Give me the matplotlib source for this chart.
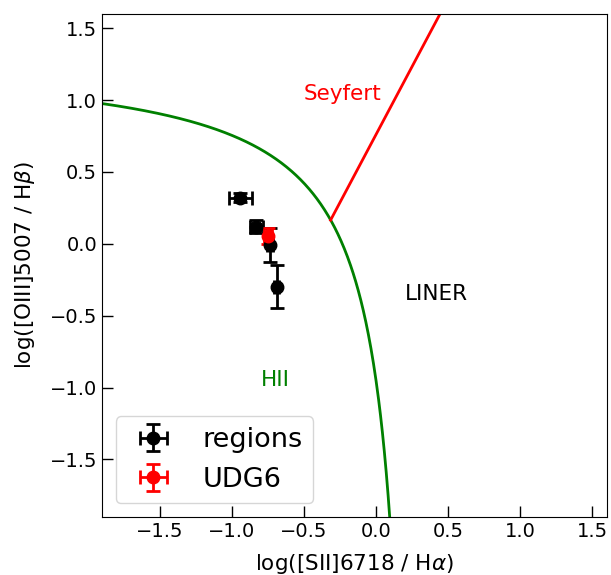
import numpy as np
import matplotlib.pyplot as plt

# data points
reg_x = [-0.94, -0.83, -0.735, -0.69]
reg_y = [0.32, 0.12, -0.01, -0.30]
reg_xerr = [0.08, 0.045, 0.02, 0.02]
reg_yerr = [0.03, 0.045, 0.12, 0.15]

udg_x = [-0.75]
udg_y = [0.055]
udg_xerr = [0.03]
udg_yerr = [0.055]

fig, ax = plt.subplots(figsize=(6.11, 5.75), dpi=100)

# Kewley 2006 demarcation lines
x1 = np.linspace(-1.9, 0.3, 500)
y1 = 0.72 / (x1 - 0.32) + 1.30
ax.plot(x1, y1, color='green', lw=2)

x2 = np.linspace(-0.315, 0.5, 100)
y2 = 1.89 * x2 + 0.76
ax.plot(x2, y2, color='red', lw=2)

ax.errorbar(reg_x, reg_y, xerr=reg_xerr, yerr=reg_yerr, fmt='o', color='black',
            ms=9, capsize=5, elinewidth=2, capthick=2, label='regions')
ax.errorbar(udg_x, udg_y, xerr=udg_xerr, yerr=udg_yerr, fmt='o', color='red',
            ms=9, capsize=5, elinewidth=2, capthick=2, label='UDG6')

ax.text(-0.23, 1.04, 'Seyfert', color='red', fontsize=15.5, ha='center', va='center')
ax.text(0.42, -0.35, 'LINER', color='black', fontsize=15.5, ha='center', va='center')
ax.text(-0.70, -0.95, 'HII', color='green', fontsize=15.5, ha='center', va='center')

ax.set_xlim(-1.9, 1.6)
ax.set_ylim(-1.9, 1.6)
ax.set_xticks([-1.5, -1.0, -0.5, 0.0, 0.5, 1.0, 1.5])
ax.set_yticks([-1.5, -1.0, -0.5, 0.0, 0.5, 1.0, 1.5])
ax.tick_params(direction='in', length=8, width=1, labelsize=14)
ax.set_xlabel(r'log([SII]6718 / H$\alpha$)', fontsize=15.5, labelpad=8)
ax.set_ylabel(r'log([OIII]5007 / H$\beta$)', fontsize=15.5, labelpad=9)

ax.legend(loc='lower left', fontsize=19.5)

plt.subplots_adjust(left=0.167, right=0.993, top=0.976, bottom=0.101)
plt.savefig('out.png')
